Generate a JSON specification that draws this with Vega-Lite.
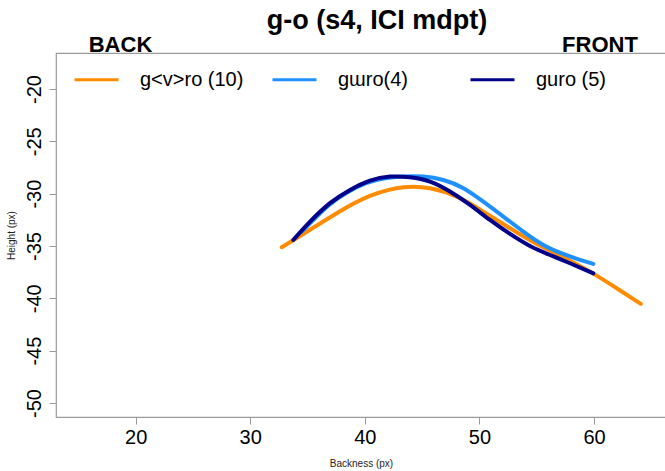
{
  "$schema": "https://vega.github.io/schema/vega-lite/v6.json",
  "width": 610,
  "height": 364,
  "autosize": {"type": "none"},
  "padding": {"left": 56, "top": 53, "right": 0, "bottom": 54},
  "background": "white",
  "config": {
    "font": "Liberation Sans",
    "view": {"stroke": "#9a9a9a", "strokeWidth": 1.2},
    "axis": {"grid": false, "domain": false, "tickColor": "#9a9a9a", "tickSize": 7, "labelFont": "Liberation Sans", "labelFontSize": 20, "labelColor": "black", "titleFont": "Liberation Sans", "titleFontSize": 10, "titleFontWeight": "normal", "titleColor": "#222"}
  },
  "title": {
    "text": "g-o (s4, ICI mdpt)",
    "font": "Liberation Sans",
    "fontSize": 27,
    "fontWeight": "bold",
    "color": "black",
    "anchor": "middle",
    "frame": "group",
    "baseline": "alphabetic",
    "offset": -22,
    "dx": 16
  },
  "datasets": {
    "curves": [
      {"series": "g<v>ro (10)", "x": 32.75, "y": -35.12},
      {"series": "g<v>ro (10)", "x": 34.63, "y": -33.85},
      {"series": "g<v>ro (10)", "x": 37.55, "y": -31.87},
      {"series": "g<v>ro (10)", "x": 40.45, "y": -30.22},
      {"series": "g<v>ro (10)", "x": 43.36, "y": -29.39},
      {"series": "g<v>ro (10)", "x": 45.69, "y": -29.49},
      {"series": "g<v>ro (10)", "x": 48.02, "y": -30.29},
      {"series": "g<v>ro (10)", "x": 50.34, "y": -31.72},
      {"series": "g<v>ro (10)", "x": 52.67, "y": -33.30},
      {"series": "g<v>ro (10)", "x": 55.0, "y": -34.80},
      {"series": "g<v>ro (10)", "x": 57.32, "y": -36.07},
      {"series": "g<v>ro (10)", "x": 59.65, "y": -37.45},
      {"series": "g<v>ro (10)", "x": 61.98, "y": -39.04},
      {"series": "g<v>ro (10)", "x": 64.08, "y": -40.53},
      {"series": "gɯro(4)", "x": 34.49, "y": -33.63},
      {"series": "gɯro(4)", "x": 36.09, "y": -31.87},
      {"series": "gɯro(4)", "x": 37.55, "y": -30.53},
      {"series": "gɯro(4)", "x": 39.29, "y": -29.39},
      {"series": "gɯro(4)", "x": 41.04, "y": -28.69},
      {"series": "gɯro(4)", "x": 43.36, "y": -28.37},
      {"series": "gɯro(4)", "x": 45.10, "y": -28.37},
      {"series": "gɯro(4)", "x": 46.85, "y": -28.69},
      {"series": "gɯro(4)", "x": 48.60, "y": -29.48},
      {"series": "gɯro(4)", "x": 50.34, "y": -30.76},
      {"series": "gɯro(4)", "x": 52.09, "y": -32.19},
      {"series": "gɯro(4)", "x": 53.83, "y": -33.63},
      {"series": "gɯro(4)", "x": 55.58, "y": -34.90},
      {"series": "gɯro(4)", "x": 57.32, "y": -35.76},
      {"series": "gɯro(4)", "x": 58.78, "y": -36.33},
      {"series": "gɯro(4)", "x": 59.94, "y": -36.71},
      {"series": "guro (5)", "x": 33.76, "y": -34.42},
      {"series": "guro (5)", "x": 35.22, "y": -32.67},
      {"series": "guro (5)", "x": 36.96, "y": -30.91},
      {"series": "guro (5)", "x": 38.71, "y": -29.64},
      {"series": "guro (5)", "x": 40.45, "y": -28.75},
      {"series": "guro (5)", "x": 42.20, "y": -28.37},
      {"series": "guro (5)", "x": 43.94, "y": -28.43},
      {"series": "guro (5)", "x": 45.69, "y": -28.85},
      {"series": "guro (5)", "x": 47.43, "y": -29.80},
      {"series": "guro (5)", "x": 49.18, "y": -31.08},
      {"series": "guro (5)", "x": 50.92, "y": -32.51},
      {"series": "guro (5)", "x": 52.67, "y": -33.85},
      {"series": "guro (5)", "x": 54.41, "y": -35.00},
      {"series": "guro (5)", "x": 56.16, "y": -35.86},
      {"series": "guro (5)", "x": 57.90, "y": -36.65},
      {"series": "guro (5)", "x": 59.94, "y": -37.61}
    ],
    "labels": [
      {"label": "BACK", "x": 18.68, "y": -16.47},
      {"label": "FRONT", "x": 60.52, "y": -16.47}
    ]
  },
  "layer": [
    {
      "data": {"name": "curves"},
      "mark": {"type": "line", "strokeWidth": 4, "interpolate": "natural", "strokeCap": "round"},
      "encoding": {
        "x": {"field": "x", "type": "quantitative", "scale": {"domain": [13.05, 66.28], "nice": false, "zero": false},
          "axis": {"values": [20, 30, 40, 50, 60], "title": "Backness (px)", "labelPadding": 3, "titlePadding": 11}},
        "y": {"field": "y", "type": "quantitative", "scale": {"domain": [-51.34, -16.56], "nice": false, "zero": false},
          "axis": {"values": [-50, -45, -40, -35, -30, -25, -20], "labelExpr": "toString(datum.value)", "title": "Height (px)", "labelAngle": -90, "labelAlign": "center", "labelBaseline": "bottom", "labelPadding": 5, "titlePadding": 8}},
        "color": {"field": "series", "type": "nominal",
          "scale": {"domain": ["g<v>ro (10)", "gɯro(4)", "guro (5)"], "range": ["#FF8C00", "#1E90FF", "#00008B"]},
          "legend": {"title": null, "orient": "none", "legendX": 17, "legendY": 3, "direction": "horizontal", "columns": 3, "gridAlign": "all", "columnPadding": 22, "symbolType": "stroke", "symbolSize": 1936, "symbolStrokeWidth": 3, "labelFontSize": 20, "labelFont": "Liberation Sans", "labelColor": "black", "labelOffset": 20, "padding": 0}},
        "detail": {"field": "series"}
      }
    },
    {
      "data": {"name": "labels"},
      "mark": {"type": "text", "font": "Liberation Sans", "fontSize": 22, "fontWeight": "bold", "color": "black", "baseline": "alphabetic", "align": "center"},
      "encoding": {
        "x": {"field": "x", "type": "quantitative"},
        "y": {"field": "y", "type": "quantitative"},
        "text": {"field": "label"}
      }
    }
  ]
}
